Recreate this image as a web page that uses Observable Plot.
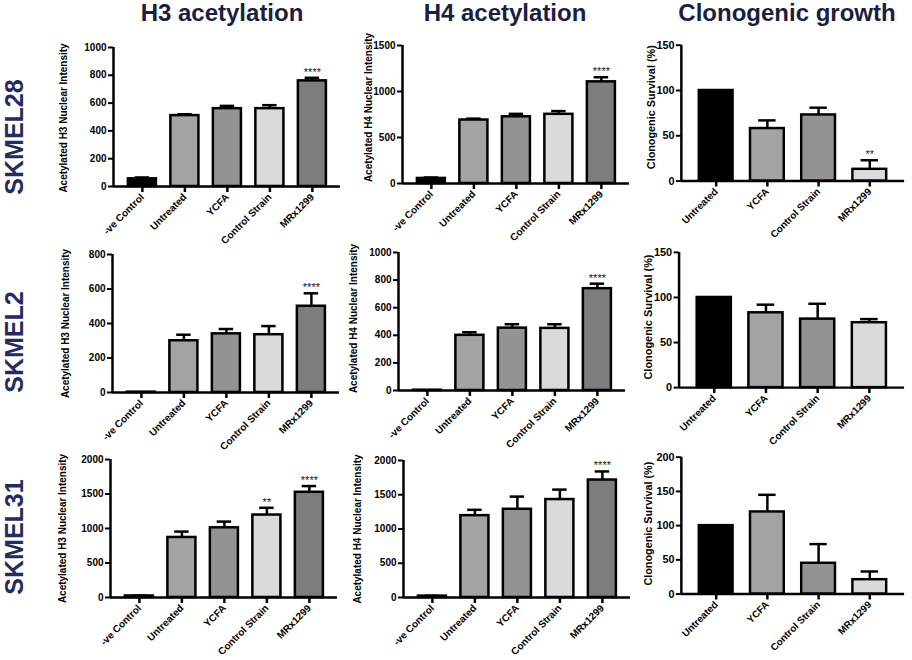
<!DOCTYPE html>
<html><head><meta charset="utf-8">
<script src="https://cdn.jsdelivr.net/npm/d3@7"></script>
<script src="https://cdn.jsdelivr.net/npm/@observablehq/plot@0.6"></script>
<style>
body{margin:0;background:#fff;}
#root{position:relative;width:912px;height:660px;overflow:hidden;font-family:"Liberation Sans",Arial,sans-serif;}
.title{position:absolute;font-weight:bold;font-size:24px;color:#1a1e40;line-height:24px;white-space:nowrap;transform:translateX(-50%);}
.row{position:absolute;font-weight:bold;font-size:25px;color:#252b5e;line-height:25px;white-space:nowrap;transform:translate(-50%,-50%) rotate(-90deg);}
.panel{position:absolute;}
.panel svg{overflow:visible;}
</style></head><body><div id="root"></div>
<script>
// ---------- data ----------
const columnTitles = ["H3 acetylation", "H4 acetylation", "Clonogenic growth"];
const cellLines = ["SKMEL28", "SKMEL2", "SKMEL31"];
const acetylCategories = ["-ve Control", "Untreated", "YCFA", "Control Strain", "MRx1299"];
const clonoCategories = ["Untreated", "YCFA", "Control Strain", "MRx1299"];
const acetylColors = ["#000000", "#a3a3a6", "#939396", "#dadadc", "#7d7d80"];
const clonoColors = ["#000000", "#a3a3a6", "#939396", "#dadadc"];

const h3Label = "Acetylated H3 Nuclear Intensity";
const h3Means = [[55, 510, 560, 560, 760], [2, 300, 340, 335, 500], [22, 870, 1010, 1195, 1525]];
const h3Errors = [[10, 10, 20, 25, 22], [0, 35, 28, 50, 75], [5, 85, 90, 105, 90]];
const h3Stars = [["", "", "", "", "****"], ["", "", "", "", "****"], ["", "", "", "**", "****"]];
const h3Max = [1000, 800, 2000];
const h3Ticks = [[0, 200, 400, 600, 800, 1000], [0, 200, 400, 600, 800], [0, 500, 1000, 1500, 2000]];

const h4Label = "Acetylated H4 Nuclear Intensity";
const h4Means = [[55, 690, 725, 752, 1105], [2, 400, 452, 450, 738], [20, 1195, 1288, 1430, 1715]];
const h4Errors = [[10, 15, 32, 35, 50], [0, 22, 28, 30, 36], [5, 85, 185, 145, 125]];
const h4Stars = [["", "", "", "", "****"], ["", "", "", "", "****"], ["", "", "", "", "****"]];
const h4Max = [1500, 1000, 2000];
const h4Ticks = [[0, 500, 1000, 1500], [0, 200, 400, 600, 800, 1000], [0, 500, 1000, 1500, 2000]];

const clonoLabel = "Clonogenic Survival (%)";
const clonoMeans = [[100, 58, 73, 13], [100, 83, 76, 72], [100, 120, 45, 21]];
const clonoErrors = [[0, 9, 8, 10], [0, 9, 17, 4], [0, 25, 28, 12]];
const clonoStars = [["", "", "", "**"], ["", "", "", ""], ["", "", "", ""]];
const clonoMax = [150, 150, 200];
const clonoTicks = [[0, 50, 100, 150], [0, 50, 100, 150], [0, 50, 100, 150, 200]];

// ---------- layout (page pixels) ----------
const layout = [
  [{x0:113,yt:47,y0:186,lo:50,ld:1},{x0:402,yt:45,y0:183,lo:34,ld:-7},{x0:682,yt:45,y0:183,lo:30,ld:-6}],
  [{x0:112,yt:254,y0:392,lo:47,ld:0},{x0:398,yt:252,y0:390,lo:45,ld:-3},{x0:679,yt:252,y0:388,lo:31,ld:-3}],
  [{x0:110,yt:459,y0:597,lo:48,ld:0},{x0:403,yt:460,y0:597,lo:46,ld:0},{x0:682,yt:457,y0:596,lo:33,ld:-2}]
];
const titleX = [222, 505, 787];
const rowY = [137, 342, 537];
const FONT = '"Liberation Sans", Arial, sans-serif';

const root = document.getElementById("root");

function panel({cats, colors, means, errs, stars, yMax, yTicks, ylabel, lay, step, tickFont, labelFont}) {
  const data = cats.map((c, i) => ({i, cat: c, mean: means[i], err: errs[i], star: stars[i], color: colors[i]}));
  const n = cats.length;
  const padL = 0.68, padR = n === 5 ? 0.66 : 0.68;
  const frameW = step * (n - 1 + padL + padR);
  const ML = 75, MR = 8, MT = 20, MB = 80;
  const frameH = lay.y0 - lay.yt;
  const withErr = data.filter(d => d.err > 0);
  const chart = Plot.plot({
    width: ML + frameW + MR, height: MT + frameH + MB,
    marginLeft: ML, marginRight: MR, marginTop: MT, marginBottom: MB,
    style: {background: "transparent", fontFamily: FONT, overflow: "visible", color: "#000"},
    x: {domain: [-padL, n - 1 + padR]},
    y: {domain: [0, yMax]},
    color: {type: "identity"},
    marks: [
      Plot.rectY(data, {x1: d => d.i - 0.33, x2: d => d.i + 0.33, y1: 0, y2: "mean", fill: "color", stroke: "#000", strokeWidth: 2.5}),
      Plot.ruleX(withErr, {x: "i", y1: "mean", y2: d => d.mean + d.err, stroke: "#000", strokeWidth: 2.5}),
      Plot.ruleY(withErr, {y: d => d.mean + d.err, x1: d => d.i - 0.17, x2: d => d.i + 0.17, stroke: "#000", strokeWidth: 2.5}),
      Plot.text(data.filter(d => d.star), {x: "i", y: d => d.mean + d.err, text: "star", dy: -2, lineAnchor: "bottom", fontSize: 11, fill: "#222"}),
      Plot.ruleX([-padL], {x: d => d, stroke: "#000", strokeWidth: 2.5}),
      Plot.ruleY([0], {y: d => d, stroke: "#000", strokeWidth: 2.5}),
      Plot.axisY({ticks: yTicks, tickFormat: d3.format("d"), tickSize: 5, tickPadding: 2, strokeWidth: 2, fontSize: tickFont, fontWeight: "bold", label: null}),
      Plot.axisX({ticks: d3.range(n), tickFormat: i => cats[i], tickRotate: -45, tickSize: 6, tickPadding: 3, strokeWidth: 2.5, fontSize: 10, fontWeight: "bold", label: null}),
      Plot.text([ylabel], {text: d => d, frameAnchor: "left", textAnchor: "middle", lineAnchor: "middle", rotate: -90, dx: -lay.lo, dy: lay.ld, fontSize: labelFont, fontWeight: "bold", fill: "#000"})
    ]
  });
  const div = document.createElement("div");
  div.className = "panel";
  div.style.left = (lay.x0 - ML) + "px";
  div.style.top = (lay.yt - MT) + "px";
  div.appendChild(chart);
  root.appendChild(div);
}

for (let r = 0; r < 3; r++) {
  panel({cats: acetylCategories, colors: acetylColors, means: h3Means[r], errs: h3Errors[r], stars: h3Stars[r],
    yMax: h3Max[r], yTicks: h3Ticks[r], ylabel: h3Label, lay: layout[r][0], step: 42.5, tickFont: 10, labelFont: 10});
  panel({cats: acetylCategories, colors: acetylColors, means: h4Means[r], errs: h4Errors[r], stars: h4Stars[r],
    yMax: h4Max[r], yTicks: h4Ticks[r], ylabel: h4Label, lay: layout[r][1], step: 42.5, tickFont: 10, labelFont: 10});
  panel({cats: clonoCategories, colors: clonoColors, means: clonoMeans[r], errs: clonoErrors[r], stars: clonoStars[r],
    yMax: clonoMax[r], yTicks: clonoTicks[r], ylabel: clonoLabel, lay: layout[r][2], step: 52, tickFont: 11, labelFont: 11});
}

columnTitles.forEach((t, c) => {
  const d = document.createElement("div");
  d.className = "title";
  d.textContent = t;
  d.style.left = titleX[c] + "px";
  d.style.top = "1px";
  root.appendChild(d);
});
cellLines.forEach((t, r) => {
  const d = document.createElement("div");
  d.className = "row";
  d.textContent = t;
  d.style.left = "14px";
  d.style.top = rowY[r] + "px";
  root.appendChild(d);
});
</script></body></html>
